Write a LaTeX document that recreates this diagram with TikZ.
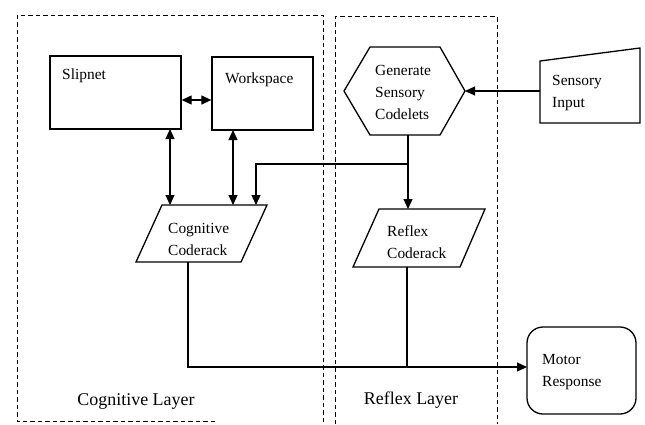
\documentclass[tikz,border=0pt]{standalone}
\usepackage{fontspec}
\setmainfont{Liberation Serif}
\usetikzlibrary{arrows.meta}
\begin{document}
\begin{tikzpicture}[x=1bp,y=-1bp,
  box/.style={draw, line width=1.3bp, line join=miter},
  txt/.style={font=\fontsize{15.5}{22}\selectfont, align=left, anchor=base west, inner sep=0pt},
  layertxt/.style={font=\fontsize{18}{20}\selectfont, anchor=base, inner sep=0pt},
  layer/.style={draw, line width=1bp, dash pattern=on 4.5bp off 3bp},
  conn/.style={draw, line width=1.2bp},
  tip/.style={-{Triangle[length=10bp,width=9bp]}},
  tips/.style={{Triangle[length=10bp,width=9bp]}-{Triangle[length=10bp,width=9bp]}},
]
\useasboundingbox (0,0) rectangle (645,424);

% layer frames
\path[layer] (215,421) -- (17,421) -- (17,15) -- (323,15) -- (323,424);
\path[layer] (335,424) -- (335,16.5) -- (497,16.5) -- (497,424);
\node[layertxt] (coglayer) at (136,405) {Cognitive Layer};
\node[layertxt] (reflayer) at (411,404) {Reflex Layer};

% Slipnet and Workspace
\node[box, minimum width=131bp, minimum height=73bp, inner sep=0pt] (slip) at (115.5,92.5) {};
\node[txt] at (62,79) {Slipnet};
\node[box, minimum width=101bp, minimum height=73bp, inner sep=0pt] (work) at (262.5,93.5) {};
\node[txt] at (225,83) {Workspace};

% Generate Sensory Codelets (hexagon); the base anchor sits on the last line
\path[box] (344,91) -- (370,47) -- (440,47) -- (465,91) -- (440,135) -- (370,135) -- cycle;
\coordinate (genE) at (465,91);
\coordinate (genS) at (408,135);
\node[txt] (gen) at (375,119) {Generate\\Sensory\\Codelets};

% Sensory Input (manual input)
\path[box] (540,61) -- (640,48) -- (640,123) -- (540,123) -- cycle;
\coordinate (sensW) at (540,91);
\node[txt] (sens) at (552,107) {Sensory\\Input};

% Cognitive Coderack (parallelogram)
\path[box] (162,205) -- (267,205) -- (241,262) -- (136,262) -- cycle;
\coordinate (cogS) at (188,262);
\node[txt] (cog) at (168,255) {Cognitive\\Coderack};

% Reflex Coderack (parallelogram)
\path[box] (379,209) -- (485,209) -- (460,267) -- (353,267) -- cycle;
\coordinate (refN) at (408,209);
\coordinate (refS) at (407,267);
\node[txt] (ref) at (387,258) {Reflex\\Coderack};

% Motor Response
\path[box, rounded corners=16bp] (527,327) rectangle (636,414);
\coordinate (motW) at (527,367);
\node[txt] (mot) at (542,386) {Motor\\Response};

% connectors
\path[conn, tips] (slip.east |- 0,100) -- (work.west |- 0,100);
\path[conn, tips] (170,129) -- (170,205);
\path[conn, tips] (233,130) -- (233,205);
\path[conn, tip] (genS) -- (refN);
\coordinate (branch) at (408,164);
\path[conn, tip] (branch) -- (256,164) -- (256,205);
\path[conn, tip] (sensW) -- (genE);
\coordinate (join) at (407,367);
\path[conn, tip] (cogS) |- (motW);
\path[conn] (refS) -- (join);
\end{tikzpicture}
\end{document}
